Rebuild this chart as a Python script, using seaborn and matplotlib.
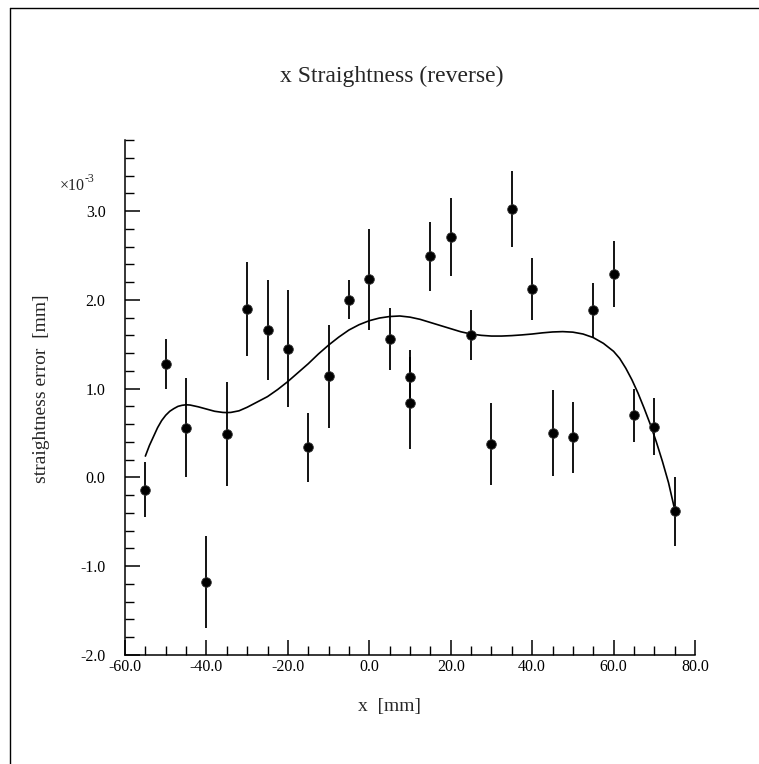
import numpy as np
import pandas as pd
import matplotlib
matplotlib.use("Agg")
import matplotlib.pyplot as plt
from matplotlib.lines import Line2D
from matplotlib.ticker import MultipleLocator, FormatStrFormatter
import seaborn as sns

# ---- data (units: x in mm, y in 1e-3 mm) ----
pos_mm = [-55, -50, -45, -40, -35, -30, -25, -20, -15, -10, -5, 0, 5, 10, 10,
          15, 20, 25, 30, 35, 40, 45, 50, 55, 60, 65, 70, 75]
err_val = [-0.14, 1.28, 0.56, -1.18, 0.49, 1.90, 1.66, 1.45, 0.34, 1.14, 2.00, 2.23,
           1.56, 1.13, 0.84, 2.49, 2.71, 1.60, 0.38, 3.02, 2.12, 0.50, 0.45, 1.88,
           2.29, 0.70, 0.57, -0.38]
err_bar = [0.31, 0.28, 0.56, 0.52, 0.59, 0.53, 0.56, 0.66, 0.39, 0.58, 0.22, 0.57,
           0.35, 0.30, 0.52, 0.39, 0.44, 0.28, 0.46, 0.43, 0.35, 0.48, 0.40, 0.31,
           0.37, 0.30, 0.32, 0.39]

fit_x = [-55, -54.5, -54, -53, -52, -51, -50, -49, -48, -47, -46, -45, -44, -43, -42,
         -40, -38, -36, -35, -34, -32, -30, -27.5, -25, -22.5, -20, -17.5, -15, -12.5,
         -10, -7.5, -5, -2.5, 0, 2.5, 5, 7.5, 10, 12.5, 15, 17.5, 20, 22.5, 25, 27.5,
         30, 32.5, 35, 37.5, 40, 42.5, 45, 47.5, 50, 52.5, 55, 57.5, 60, 61.5, 63,
         64.5, 66, 67.5, 69, 70.5, 72, 73.5, 75]
fit_y = [0.24, 0.30, 0.36, 0.46, 0.56, 0.64, 0.70, 0.745, 0.775, 0.80, 0.812, 0.818,
         0.815, 0.805, 0.795, 0.77, 0.745, 0.732, 0.73, 0.732, 0.75, 0.79, 0.85, 0.91,
         0.99, 1.08, 1.18, 1.28, 1.39, 1.49, 1.58, 1.66, 1.72, 1.765, 1.795, 1.812,
         1.818, 1.805, 1.78, 1.745, 1.71, 1.675, 1.64, 1.615, 1.60, 1.592, 1.592,
         1.597, 1.605, 1.615, 1.628, 1.638, 1.642, 1.636, 1.615, 1.575, 1.51, 1.42,
         1.34, 1.23, 1.10, 0.95, 0.78, 0.60, 0.40, 0.18, -0.06, -0.36]

title_text = "x Straightness (reverse)"
xlabel_text = "x  [mm]"
ylabel_text = "straightness error  [mm]"

sns.set_style("ticks")
plt.rcParams["font.family"] = ["Liberation Serif", "DejaVu Serif"]

W, H = 759, 764
fig = plt.figure(figsize=(W / 100, H / 100), dpi=100)
ax = fig.add_axes([125 / W, 1 - 655 / H, 570 / W, 515 / H])

pts = pd.DataFrame({"x": pos_mm, "y": err_val, "e": err_bar})
fit = pd.DataFrame({"x": fit_x, "y": fit_y})

ax.errorbar(pts["x"], pts["y"], yerr=pts["e"], fmt="none", ecolor="black",
            elinewidth=1.3, capsize=0, zorder=2)
sns.lineplot(data=fit, x="x", y="y", ax=ax, color="black", linewidth=1.2,
             estimator=None, sort=False, zorder=3)
sns.scatterplot(data=pts, x="x", y="y", ax=ax, color="black", s=48,
                edgecolor="#333333", linewidth=0.6, zorder=4)

ax.set_xlim(-60, 80)
ax.set_ylim(-2.0, 3.8)
ax.xaxis.set_major_locator(MultipleLocator(20))
ax.xaxis.set_minor_locator(MultipleLocator(5))
ax.yaxis.set_major_locator(MultipleLocator(1.0))
ax.yaxis.set_minor_locator(MultipleLocator(0.2))
ax.xaxis.set_major_formatter(FormatStrFormatter("%.1f"))
ax.yaxis.set_major_formatter(FormatStrFormatter("%.1f"))

for s in ["top", "right"]:
    ax.spines[s].set_visible(False)
for s in ["left", "bottom"]:
    ax.spines[s].set_linewidth(1.1)
    ax.spines[s].set_color("black")

ax.tick_params(which="major", direction="in", length=10.5, width=1.1, labelsize=11.5,
               colors="black")
ax.tick_params(which="minor", direction="in", length=6.5, width=1.0, colors="black")
ax.tick_params(axis="y", which="major", pad=14)
ax.tick_params(axis="x", which="major", pad=3)

ax.set_xlabel("")
ax.set_ylabel("")

fig.text(392 / W, 1 - 76 / H, title_text, ha="center", va="center", fontsize=17)
fig.text(390 / W, 1 - 707 / H, xlabel_text, ha="center", va="center", fontsize=14)
fig.text(42 / W, 1 - 389 / H, ylabel_text, ha="center", va="center", fontsize=14,
         rotation=90)
fig.text(60 / W, 1 - 190 / H, "\u00d710", ha="left", va="baseline", fontsize=11.5)
fig.text(85 / W, 1 - 182 / H, "-3", ha="left", va="baseline", fontsize=8.5)

# outer frame (only left and top edges visible)
fig.add_artist(Line2D([10 / W, 10 / W], [0, 1 - 8 / H], color="black", linewidth=1.0,
                      transform=fig.transFigure))
fig.add_artist(Line2D([10 / W, 1], [1 - 8 / H, 1 - 8 / H], color="black", linewidth=1.0,
                      transform=fig.transFigure))

fig.savefig("out.png", dpi=100, facecolor="white")
